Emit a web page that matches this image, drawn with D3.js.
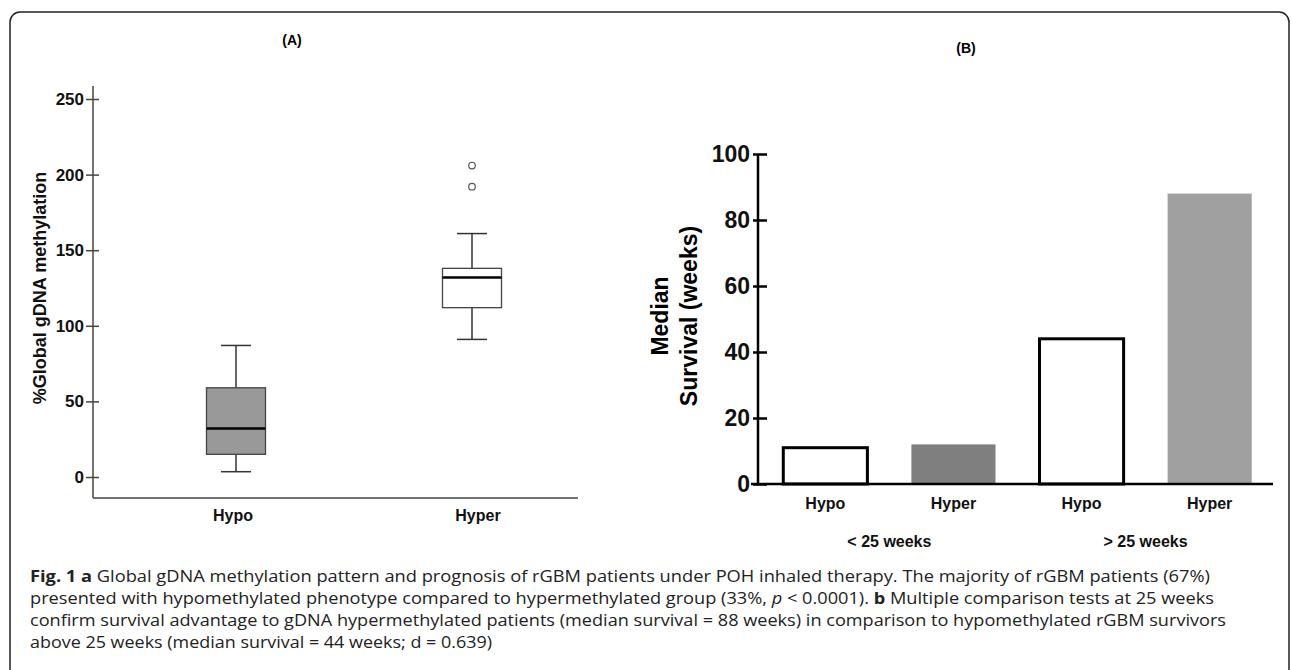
<!DOCTYPE html>
<html>
<head>
<meta charset="utf-8">
<script src="https://cdn.jsdelivr.net/npm/d3@7"></script>
<style>
  body { margin: 0; background: white; }
  svg { display: block; font-family: Arial, "Liberation Sans", sans-serif; }
</style>
</head>
<body>
<div id="fig"></div>
<script>
// panel A: box plot of global gDNA methylation
const boxGroups = ['Hypo', 'Hyper'];
const boxMin = [3.5, 91];
const boxQ1 = [15, 112];
const boxMedian = [32, 132];
const boxQ3 = [59, 138];
const boxMax = [87, 161];
const boxOutliers = [[], [192, 206]];
const boxFill = ['#999999', '#ffffff'];
const yTicksA = [0, 50, 100, 150, 200, 250];

// panel B: median survival bars
const barLabels = ['Hypo', 'Hyper', 'Hypo', 'Hyper'];
const barValues = [11, 12, 44, 88];
const barFill = ['#ffffff', '#7f7f7f', '#ffffff', '#a0a0a0'];
const barStroke = ['#000', 'none', '#000', 'none'];
const barGroups = ['< 25 weeks', '> 25 weeks'];
const yTicksB = [0, 20, 40, 60, 80, 100];

const captionLines = [
  [['b', 'Fig. 1 a'], ['n', ' Global gDNA methylation pattern and prognosis of rGBM patients under POH inhaled therapy. The majority of rGBM patients (67%)']],
  [['n', 'presented with hypomethylated phenotype compared to hypermethylated group (33%, '], ['i', 'p'], ['n', ' < 0.0001). '], ['b', 'b'], ['n', ' Multiple comparison tests at 25 weeks']],
  [['n', 'confirm survival advantage to gDNA hypermethylated patients (median survival = 88 weeks) in comparison to hypomethylated rGBM survivors']],
  [['n', 'above 25 weeks (median survival = 44 weeks; d = 0.639)']]
];
const captionWidths = [1180, 1184, 1196, 462];

let width = 1292, height = 670;

let svg = d3.select('#fig')
            .append('svg')
            .attr('width', width)
            .attr('height', height);

// rounded frame, bottom runs off the page
svg.append('rect')
   .attr('x', 10).attr('y', 12)
   .attr('width', 1279).attr('height', 720)
   .attr('rx', 10)
   .attr('fill', 'none')
   .attr('stroke', '#222')
   .attr('stroke-width', 1.5);

// ---------- panel A ----------
let a = { left: 93, right: 578, top: 86, bottom: 498 };

let yA = d3.scaleLinear().domain([0, 250]).range([477, 99]);
let xA = d3.scalePoint().domain(boxGroups).range([118, 590]).padding(0.5);
let boxW = 59, capW = 30;

svg.append('text')
   .attr('x', 292).attr('y', 45)
   .attr('text-anchor', 'middle')
   .style('font-weight', 'bold').style('font-size', '14px')
   .text('(A)');

// axes
svg.append('line')
   .attr('x1', a.left).attr('x2', a.left)
   .attr('y1', a.top).attr('y2', a.bottom)
   .attr('stroke', '#444').attr('stroke-width', 1.5);
svg.append('line')
   .attr('x1', a.left).attr('x2', a.right)
   .attr('y1', a.bottom).attr('y2', a.bottom)
   .attr('stroke', '#444').attr('stroke-width', 1.5);

let axA = svg.append('g')
   .attr('transform', `translate(${a.left}, 0)`)
   .call(d3.axisLeft(yA).tickValues(yTicksA).tickSize(7).tickSizeOuter(0).tickPadding(2));
axA.select('.domain').remove();
axA.selectAll('.tick line').attr('x2', -7).attr('x1', 6).attr('stroke', '#444').attr('stroke-width', 1.5);
axA.selectAll('.tick text')
   .style('font-size', '17px').style('font-weight', 'bold').attr('fill', '#111');

svg.append('text')
   .attr('transform', 'translate(46, 288) rotate(-90)')
   .attr('text-anchor', 'middle')
   .style('font-weight', 'bold').style('font-size', '18px')
   .attr('fill', '#111')
   .text('%Global gDNA methylation');

// x labels
svg.selectAll('text.xa')
   .data(boxGroups)
   .enter()
   .append('text')
   .attr('class', 'xa')
   .attr('x', (d, i) => xA(d) + (i == 0 ? -3 : 6))
   .attr('y', 521)
   .attr('text-anchor', 'middle')
   .style('font-weight', 'bold').style('font-size', '16px')
   .attr('fill', '#111')
   .text(d => d);

// boxes
let box = svg.selectAll('g.box')
   .data(boxGroups)
   .enter()
   .append('g')
   .attr('class', 'box');

box.append('line') // upper whisker
   .attr('x1', d => xA(d)).attr('x2', d => xA(d))
   .attr('y1', (d, i) => yA(boxMax[i])).attr('y2', (d, i) => yA(boxQ3[i]))
   .attr('stroke', '#333').attr('stroke-width', 1.5);
box.append('line') // lower whisker
   .attr('x1', d => xA(d)).attr('x2', d => xA(d))
   .attr('y1', (d, i) => yA(boxMin[i])).attr('y2', (d, i) => yA(boxQ1[i]))
   .attr('stroke', '#333').attr('stroke-width', 1.5);
box.append('line')
   .attr('x1', d => xA(d) - capW / 2).attr('x2', d => xA(d) + capW / 2)
   .attr('y1', (d, i) => yA(boxMax[i])).attr('y2', (d, i) => yA(boxMax[i]))
   .attr('stroke', '#333').attr('stroke-width', 1.5);
box.append('line')
   .attr('x1', d => xA(d) - capW / 2).attr('x2', d => xA(d) + capW / 2)
   .attr('y1', (d, i) => yA(boxMin[i])).attr('y2', (d, i) => yA(boxMin[i]))
   .attr('stroke', '#333').attr('stroke-width', 1.5);
box.append('rect')
   .attr('x', d => xA(d) - boxW / 2)
   .attr('width', boxW)
   .attr('y', (d, i) => yA(boxQ3[i]))
   .attr('height', (d, i) => yA(boxQ1[i]) - yA(boxQ3[i]))
   .attr('fill', (d, i) => boxFill[i])
   .attr('stroke', '#444').attr('stroke-width', 1.3);
box.append('line') // median
   .attr('x1', d => xA(d) - boxW / 2).attr('x2', d => xA(d) + boxW / 2)
   .attr('y1', (d, i) => yA(boxMedian[i])).attr('y2', (d, i) => yA(boxMedian[i]))
   .attr('stroke', '#000').attr('stroke-width', 2.5);

// outliers
boxGroups.forEach(function(g, i) {
    svg.selectAll('circle.out' + i)
       .data(boxOutliers[i])
       .enter()
       .append('circle')
       .attr('class', 'out' + i)
       .attr('cx', xA(g))
       .attr('cy', d => yA(d))
       .attr('r', 3.3)
       .attr('fill', 'white')
       .attr('stroke', '#555').attr('stroke-width', 1.2);
});

// ---------- panel B ----------
let b = { left: 758, right: 1273, bottom: 484 };

let yB = d3.scaleLinear().domain([0, 100]).range([484, 154]);
let xB = d3.scaleBand()
           .domain(d3.range(barValues.length))
           .range([760, 1275])
           .paddingInner(0.32)
           .paddingOuter(0.17);

svg.append('text')
   .attr('x', 966).attr('y', 53)
   .attr('text-anchor', 'middle')
   .style('font-weight', 'bold').style('font-size', '14px')
   .text('(B)');

// bars
svg.selectAll('rect.bar')
   .data(barValues)
   .enter()
   .append('rect')
   .attr('class', 'bar')
   .attr('x', (d, i) => xB(i) + 1.5)
   .attr('width', xB.bandwidth() - 3)
   .attr('y', d => yB(d))
   .attr('height', d => yB(0) - yB(d))
   .attr('fill', (d, i) => barFill[i])
   .attr('stroke', (d, i) => barStroke[i])
   .attr('stroke-width', 3);

svg.append('line')
   .attr('x1', b.left).attr('x2', b.left)
   .attr('y1', yB(100)).attr('y2', b.bottom)
   .attr('stroke', '#000').attr('stroke-width', 2.5);
svg.append('line')
   .attr('x1', 751).attr('x2', b.right)
   .attr('y1', b.bottom).attr('y2', b.bottom)
   .attr('stroke', '#000').attr('stroke-width', 2.5);

let axB = svg.append('g')
   .attr('transform', `translate(${b.left}, 0)`)
   .call(d3.axisLeft(yB).tickValues(yTicksB).tickSize(5).tickSizeOuter(0).tickPadding(3));
axB.select('.domain').remove();
axB.selectAll('.tick line').attr('x2', -5).attr('x1', 9).attr('stroke', '#000').attr('stroke-width', 2.5);
axB.selectAll('.tick text')
   .style('font-size', '23px').style('font-weight', 'bold').attr('fill', '#111');

svg.append('text')
   .attr('transform', 'translate(668, 316) rotate(-90)')
   .attr('text-anchor', 'middle')
   .style('font-weight', 'bold').style('font-size', '23px')
   .text('Median');
svg.append('text')
   .attr('transform', 'translate(697, 316) rotate(-90)')
   .attr('text-anchor', 'middle')
   .style('font-weight', 'bold').style('font-size', '23px')
   .text('Survival (weeks)');

svg.selectAll('text.xb')
   .data(barLabels)
   .enter()
   .append('text')
   .attr('class', 'xb')
   .attr('x', (d, i) => xB(i) + xB.bandwidth() / 2)
   .attr('y', 509)
   .attr('text-anchor', 'middle')
   .style('font-weight', 'bold').style('font-size', '16px')
   .attr('fill', '#111')
   .text(d => d);

svg.selectAll('text.grp')
   .data(barGroups)
   .enter()
   .append('text')
   .attr('class', 'grp')
   .attr('x', (d, i) => (xB(2 * i) + xB(2 * i + 1) + xB.bandwidth()) / 2)
   .attr('y', 547)
   .attr('text-anchor', 'middle')
   .style('font-weight', 'bold').style('font-size', '16px')
   .attr('fill', '#111')
   .text(d => d);

// ---------- caption ----------
let cap = svg.append('g').style('font-family', '"Open Sans", "Noto Sans", sans-serif');
captionLines.forEach(function(parts, i) {
    let t = cap.append('text')
       .attr('x', 30)
       .attr('y', 582 + i * 22)
       .attr('textLength', captionWidths[i])
       .attr('lengthAdjust', 'spacingAndGlyphs')
       .style('font-size', '16.5px')
       .attr('fill', '#222');
    parts.forEach(function(p) {
        t.append('tspan')
         .style('font-weight', p[0] == 'b' ? 'bold' : 'normal')
         .style('font-style', p[0] == 'i' ? 'italic' : 'normal')
         .text(p[1]);
    });
});
</script>
</body>
</html>
